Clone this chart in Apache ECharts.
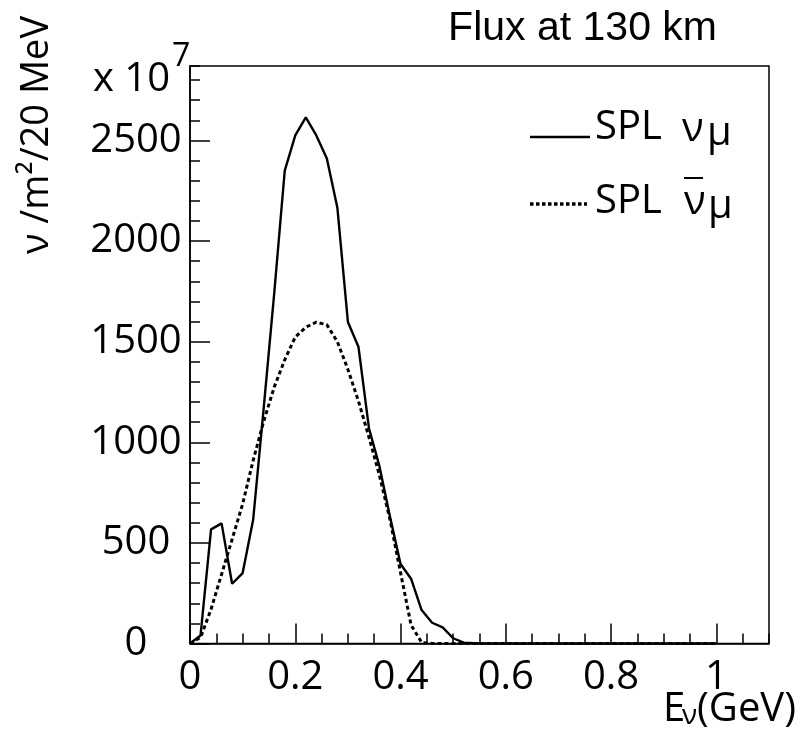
<!DOCTYPE html>
<html><head><meta charset="utf-8">
<script src="https://cdn.jsdelivr.net/npm/echarts/dist/echarts.min.js"></script>
<style>html,body{margin:0;padding:0;background:#fff}#c{width:804px;height:730px}</style>
</head><body><div id="c"></div>
<script>
// Energy bin positions (GeV)
const energy = [0,0.02,0.04,0.06,0.08,0.10,0.12,0.14,0.16,0.18,0.20,0.22,0.24,0.26,0.28,0.30,0.32,0.34,0.36,0.38,0.40,0.42,0.44,0.46,0.48,0.50,0.52,0.54,0.56,0.58,0.60,0.62,0.64,0.66,0.68,0.70,0.72,0.74,0.76,0.78,0.80,0.82,0.84,0.86,0.88,0.90,0.92,0.94,0.96,0.98,1.00];
// SPL nu_mu flux (x 10^7 nu / m^2 / 20 MeV)
const splNuMu = [0,40,567,597,297,350,615,1170,1740,2350,2525,2615,2525,2410,2165,1598,1475,1070,880,630,395,322,166,103,80,26,4,2,0,0,0,0,0,0,0,0,0,0,0,0,0,0,0,0,0,0,0,0,0,0,0];
// SPL anti-nu_mu flux
const splAntiNuMu = [0,30,170,344,518,693,910,1104,1274,1410,1523,1572,1597,1584,1500,1362,1205,1025,835,615,352,92,5,0,0,0,0,0,0,0,0,0,0,0,0,0,0,0,0,0,0,0,0,0,0,0,0,0,0,0,0,0];
const xTicks = {min:0, max:1.1, major:0.2, minor:0.05};
const yTicks = {min:0, max:2870, major:500, minor:100};

const pairs = (vals) => energy.map((e, i) => [e, vals[i]]);
const F = '"Open Sans"';
const black = '#000';

const chart = echarts.init(document.getElementById('c'), null, {renderer:'canvas'});
const axisCommon = {
  type:'value', splitLine:{show:false}
};
const txt = (x, y, text, size, align, extra) => Object.assign({type:'text', x:x, y:y,
  style:{text:text, font:size + 'px ' + F, fill:black, align:align, verticalAlign:'middle', textAlign:align, textVerticalAlign:'middle'}}, extra || {});
chart.setOption({
  animation:false,
  backgroundColor:'#fff',
  title:{text:'Flux at 130 km', right:82, top:3,
    textStyle:{fontFamily:'"Liberation Sans", Arial', fontSize:41, fontWeight:'normal', color:black}},
  grid:{left:190, right:35, top:66, bottom:86.5, show:true, borderColor:black, borderWidth:1.5,
    containLabel:false, outerBoundsMode:'none'},
  xAxis:[
    Object.assign({}, axisCommon, {min:xTicks.min, max:xTicks.max, interval:xTicks.major,
      axisLine:{show:true, onZero:false, lineStyle:{color:black, width:1.5}},
      axisTick:{show:true, inside:true, length:20, lineStyle:{color:black, width:1.5}},
      axisLabel:{show:true, showMaxLabel:false, margin:14, color:black, fontFamily:F, fontSize:40,
        formatter:(v) => String(+v.toFixed(2))}}),
    Object.assign({}, axisCommon, {min:xTicks.min, max:xTicks.max, interval:xTicks.minor, position:'bottom',
      axisLine:{show:false},
      axisTick:{show:true, inside:true, length:10, lineStyle:{color:black, width:1.5}},
      axisLabel:{show:false}})
  ],
  yAxis:[
    Object.assign({}, axisCommon, {min:yTicks.min, max:yTicks.max, interval:yTicks.major,
      axisLine:{show:true, onZero:false, lineStyle:{color:black, width:1.5}},
      axisTick:{show:true, inside:true, length:20, lineStyle:{color:black, width:1.5}},
      axisLabel:{show:true, showMaxLabel:false, margin:54, align:'center', color:black, fontFamily:F, fontSize:40,
        padding:[0,0,6,0], formatter:(v) => String(v)}}),
    Object.assign({}, axisCommon, {min:yTicks.min, max:yTicks.max, interval:yTicks.minor, position:'left',
      axisLine:{show:false},
      axisTick:{show:true, inside:true, length:10, lineStyle:{color:black, width:1.5}},
      axisLabel:{show:false}})
  ],
  series:[
    {name:'SPL \u03bd\u03bc', type:'line', data:pairs(splNuMu), symbol:'none', showSymbol:false,
      lineStyle:{color:black, width:2.4}, z:3},
    {name:'SPL anti \u03bd\u03bc', type:'line', data:pairs(splAntiNuMu), symbol:'none', showSymbol:false,
      lineStyle:{color:black, width:3, type:[4,3]}, z:2}
  ],
  graphic:[
    txt(37, 135, '\u03bd /m\u00b2/20 MeV', 38, 'center', {rotation:Math.PI/2}),
    txt(170, 80, 'x 10', 40, 'right'),
    txt(172, 57, '7', 32, 'left'),
    // x axis title
    txt(663, 710, 'E', 40, 'left'),
    txt(682, 716, '\u03bd', 28, 'left'),
    txt(697, 710, '(GeV)', 40, 'left'),
    // legend
    {type:'line', shape:{x1:530, y1:137, x2:590, y2:137}, style:{stroke:black, lineWidth:2.4}},
    txt(595, 128, 'SPL', 40, 'left'),
    txt(682, 130, '\u03bd', 40, 'left'),
    txt(707, 134, '\u03bc', 40, 'left'),
    {type:'line', shape:{x1:530, y1:204, x2:587, y2:204}, style:{stroke:black, lineWidth:3.5, lineDash:[3.5,2.5]}},
    txt(595, 202, 'SPL', 40, 'left'),
    {type:'line', shape:{x1:684, y1:178, x2:703, y2:178}, style:{stroke:black, lineWidth:2}},
    txt(684, 203, '\u03bd', 40, 'left'),
    txt(708, 207, '\u03bc', 40, 'left')
  ]
});
</script></body></html>
